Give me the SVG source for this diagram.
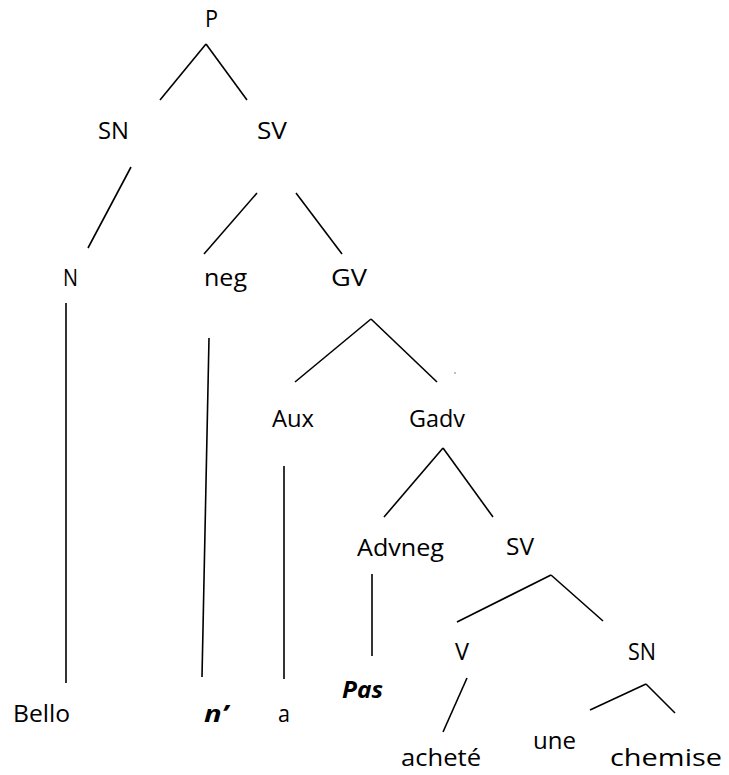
<svg xmlns="http://www.w3.org/2000/svg" width="729" height="775" viewBox="0 0 729 775">
  <style>
    text { font-family: "Open Sans", "Liberation Sans", sans-serif; font-size: 23px; fill: #000; text-anchor: middle; }
    .em { font-weight: bold; font-style: italic; }
    line { stroke: #000; stroke-width: 1.6; stroke-linecap: butt; }
  </style>
  <rect width="729" height="775" fill="#fff"/>

  <!-- tree branches -->
  <g id="connectors">
    <line x1="206" y1="44" x2="160" y2="100"/>
    <line x1="206" y1="44" x2="247" y2="100"/>
    <line x1="131" y1="167" x2="88" y2="248"/>
    <line x1="257" y1="193" x2="204" y2="254"/>
    <line x1="296" y1="193" x2="342" y2="254"/>
    <line x1="66" y1="303" x2="66" y2="683"/>
    <line x1="209" y1="338" x2="202" y2="677"/>
    <line x1="371" y1="319" x2="295" y2="382"/>
    <line x1="371" y1="319" x2="437" y2="382"/>
    <line x1="284" y1="466" x2="284" y2="679"/>
    <line x1="443" y1="448" x2="384" y2="517"/>
    <line x1="443" y1="448" x2="493" y2="517"/>
    <line x1="372" y1="574" x2="372" y2="656"/>
    <line x1="551" y1="575" x2="457" y2="622"/>
    <line x1="551" y1="575" x2="603" y2="621"/>
    <line x1="467" y1="678" x2="443" y2="732"/>
    <line x1="646" y1="684" x2="590" y2="710"/>
    <line x1="646" y1="684" x2="675" y2="713"/>
    <rect x="454.5" y="372.5" width="1" height="1" fill="#000"/>
  </g>

  <!-- category labels -->
  <g id="P"><text x="211.5" y="27" textLength="13" lengthAdjust="spacingAndGlyphs">P</text></g>
  <g id="SN1"><text x="113.5" y="139" textLength="31" lengthAdjust="spacingAndGlyphs">SN</text></g>
  <g id="SV1"><text x="272" y="139" textLength="30" lengthAdjust="spacingAndGlyphs">SV</text></g>
  <g id="N"><text x="70.5" y="286" textLength="15" lengthAdjust="spacingAndGlyphs">N</text></g>
  <g id="neg"><text x="225.5" y="286" textLength="43" lengthAdjust="spacingAndGlyphs">neg</text></g>
  <g id="GV"><text x="349" y="286" textLength="36" lengthAdjust="spacingAndGlyphs">GV</text></g>
  <g id="Aux"><text x="293" y="427" textLength="42" lengthAdjust="spacingAndGlyphs">Aux</text></g>
  <g id="Gadv"><text x="437" y="427" textLength="56" lengthAdjust="spacingAndGlyphs">Gadv</text></g>
  <g id="Advneg"><text x="400.5" y="556" textLength="87" lengthAdjust="spacingAndGlyphs">Advneg</text></g>
  <g id="SV2"><text x="520" y="555" textLength="28" lengthAdjust="spacingAndGlyphs">SV</text></g>
  <g id="V"><text x="462" y="660" textLength="14" lengthAdjust="spacingAndGlyphs">V</text></g>
  <g id="SN2"><text x="642" y="660" textLength="28" lengthAdjust="spacingAndGlyphs">SN</text></g>

  <!-- words -->
  <g id="Bello"><text x="41.5" y="722" textLength="57" lengthAdjust="spacingAndGlyphs">Bello</text></g>
  <g id="n"><text class="em" x="216" y="722" textLength="24" lengthAdjust="spacingAndGlyphs">n’</text></g>
  <g id="a"><text x="284" y="722" textLength="12" lengthAdjust="spacingAndGlyphs">a</text></g>
  <g id="Pas"><text class="em" x="362.5" y="698" textLength="41" lengthAdjust="spacingAndGlyphs">Pas</text></g>
  <g id="achete"><text x="441" y="766" textLength="80" lengthAdjust="spacingAndGlyphs">acheté</text></g>
  <g id="une"><text x="554.5" y="749" textLength="43" lengthAdjust="spacingAndGlyphs">une</text></g>
  <g id="chemise"><text x="666" y="766" textLength="112" lengthAdjust="spacingAndGlyphs">chemise</text></g>
</svg>
